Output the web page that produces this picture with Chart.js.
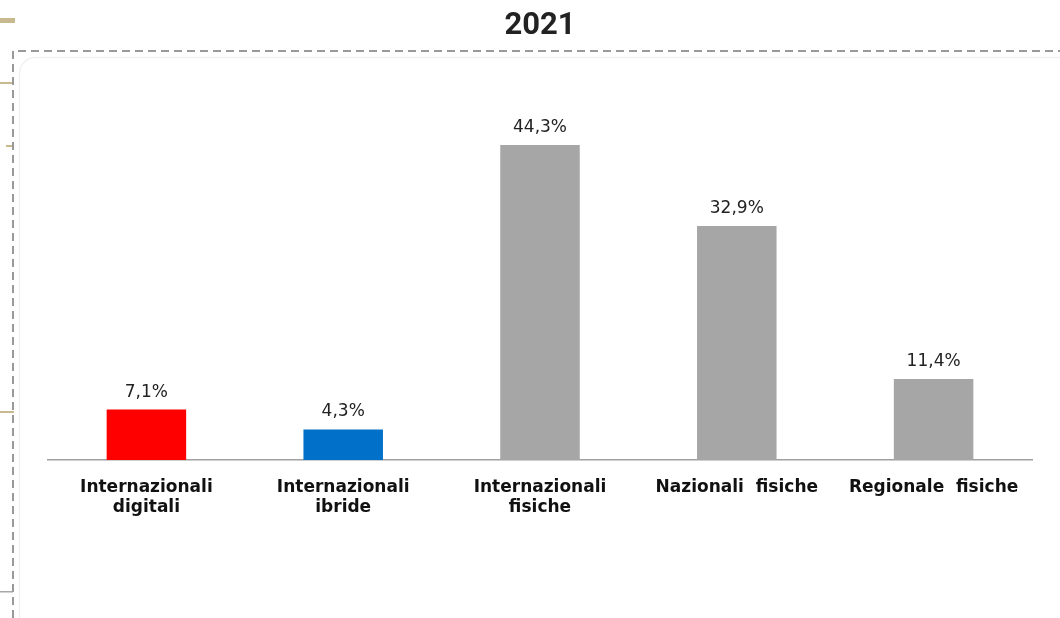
<!DOCTYPE html>
<html lang="it">
<head>
<meta charset="utf-8">
<title>2021</title>
<script src="https://cdn.jsdelivr.net/npm/chart.js@4.4.1/dist/chart.umd.min.js"></script>
<style>
  html, body { margin: 0; padding: 0; background: #ffffff; }
  #wrap { position: relative; width: 1060px; height: 618px; overflow: hidden; }
  canvas { display: block; }
</style>
</head>
<body>
<div id="wrap"><canvas id="chart" width="1060" height="618"></canvas></div>
<script>
// Categories (multi-line labels as arrays)
const categories = [
  ['Internazionali', 'digitali'],
  ['Internazionali', 'ibride'],
  ['Internazionali', 'fisiche'],
  'Nazionali  fisiche',
  'Regionale  fisiche'
];
// Share of events, percent
const values = [7.1, 4.3, 44.3, 32.9, 11.4];
const barColors = ['#ff0000', '#0070c8', '#a6a6a6', '#a6a6a6', '#a6a6a6'];
const titleText = '2021';

// Page frame: side marks, dashed border and soft inner panel
const framePlugin = {
  id: 'frame',
  beforeDraw(chart) {
    const ctx = chart.ctx;
    ctx.save();
    ctx.fillStyle = '#ffffff';
    ctx.fillRect(0, 0, chart.width, chart.height);

    ctx.fillStyle = '#c9b98f';
    ctx.fillRect(0, 18, 15, 5);
    ctx.fillRect(0, 82, 14, 2);
    ctx.fillRect(6, 145, 8, 2);
    ctx.fillRect(0, 411, 14, 2);
    ctx.fillStyle = '#a8a8a8';
    ctx.fillRect(0, 591, 13, 1.5);

    ctx.strokeStyle = '#f1f1f1';
    ctx.lineWidth = 1.5;
    ctx.beginPath();
    ctx.roundRect(19.5, 57.5, 1070, 620, 16);
    ctx.stroke();

    ctx.strokeStyle = '#999999';
    ctx.lineWidth = 2;
    ctx.setLineDash([8, 5]);
    ctx.beginPath();
    ctx.moveTo(13, chart.height);
    ctx.lineTo(13, 51);
    ctx.lineTo(chart.width, 51);
    ctx.stroke();
    ctx.restore();
  }
};

// Percentage labels above each bar
const valueLabels = {
  id: 'valueLabels',
  afterDatasetsDraw(chart) {
    const ctx = chart.ctx;
    const meta = chart.getDatasetMeta(0);
    ctx.save();
    ctx.font = '17px "DejaVu Sans", Verdana, sans-serif';
    ctx.fillStyle = '#222222';
    ctx.textAlign = 'center';
    ctx.textBaseline = 'alphabetic';
    meta.data.forEach((bar, i) => {
      const txt = values[i].toFixed(1).replace('.', ',') + '%';
      ctx.fillText(txt, bar.x, bar.y - 13);
    });
    ctx.restore();
  }
};

new Chart(document.getElementById('chart'), {
  type: 'bar',
  data: {
    labels: categories,
    datasets: [{
      data: values,
      backgroundColor: barColors,
      borderWidth: 0,
      barPercentage: 0.404,
      categoryPercentage: 1.0
    }]
  },
  options: {
    responsive: false,
    devicePixelRatio: 1,
    animation: false,
    layout: { padding: { left: 48, right: 28, top: 0, bottom: 0 } },
    plugins: {
      legend: { display: false },
      tooltip: { enabled: false },
      title: {
        display: true,
        text: titleText,
        color: '#222222',
        font: { family: 'Roboto, "Noto Sans", sans-serif', size: 31, weight: 'bold', lineHeight: 1.2 },
        padding: { top: 7.4, bottom: 59.9 }
      }
    },
    scales: {
      y: { display: false, min: 0, max: 50 },
      x: {
        grid: { display: false, drawTicks: false },
        border: { display: true, color: '#a0a0a0', width: 1.5 },
        ticks: {
          color: '#111111',
          padding: 17,
          maxRotation: 0,
          autoSkip: false,
          font: { family: '"DejaVu Sans", Verdana, sans-serif', size: 17, weight: 'bold', lineHeight: 1.2 }
        },
        afterFit(scale) { scale.height = 158; }
      }
    }
  },
  plugins: [framePlugin, valueLabels]
});
</script>
</body>
</html>
